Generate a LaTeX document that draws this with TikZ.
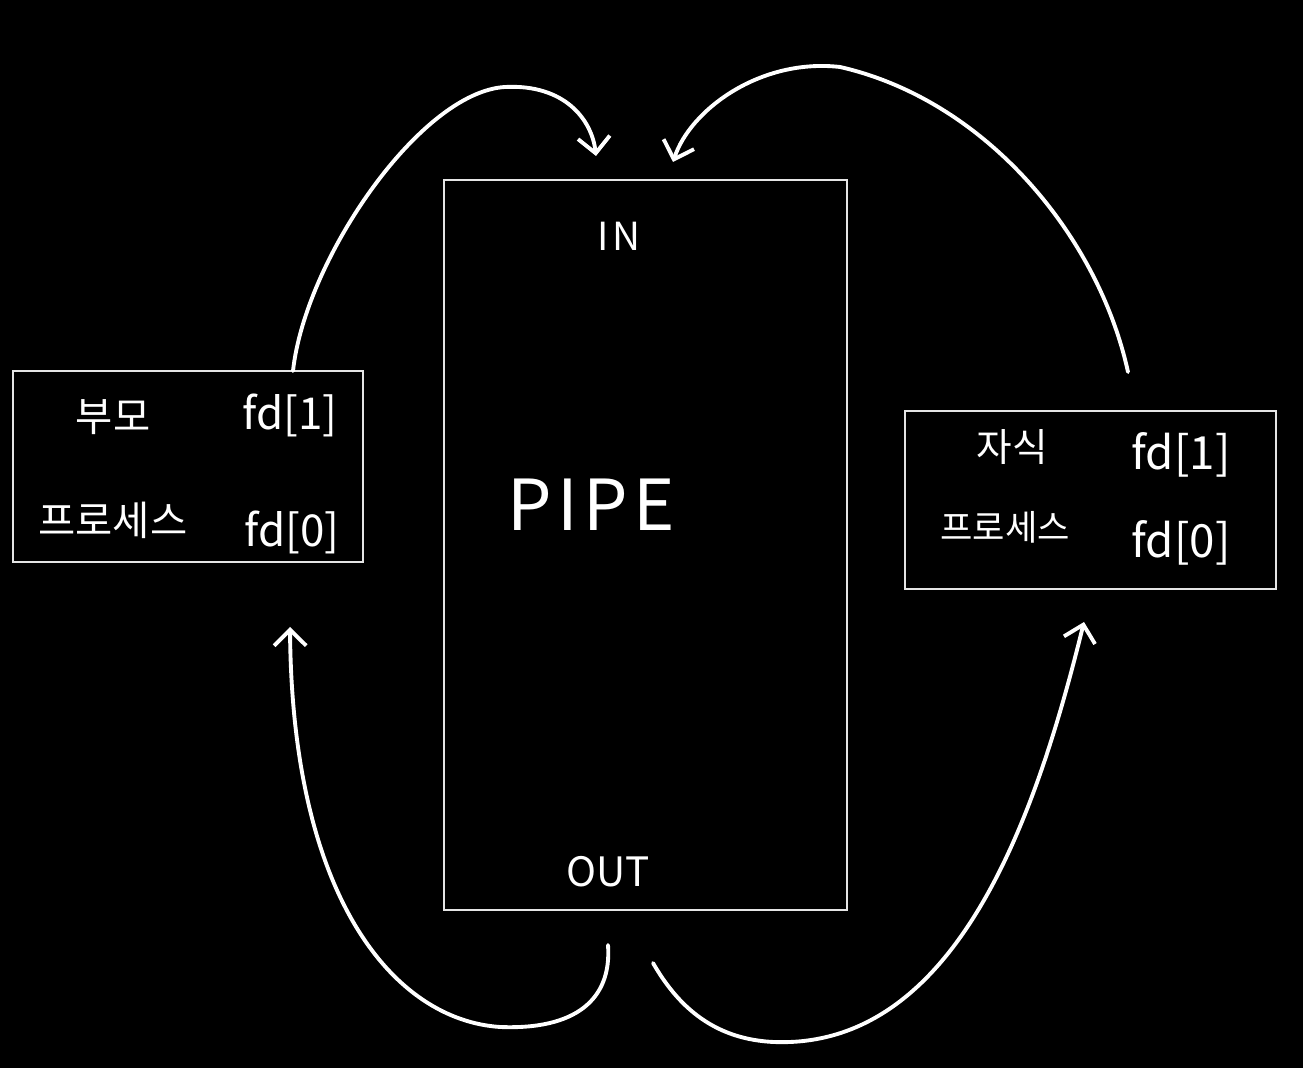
\documentclass[tikz,border=0pt]{standalone}
\usepackage{fontspec}
\setmainfont{Noto Sans CJK KR}
\usetikzlibrary{arrows.meta}
\begin{document}
\begin{tikzpicture}[x=0.01cm,y=-0.01cm,
  box/.style={draw=white!90!black,line width=0.6pt,inner sep=0pt},
  lbl/.style={text=white,inner sep=0pt,anchor=center},
  conn/.style={draw=white,line width=1.1pt,line cap=round,
    -{Straight Barb[length=0.16cm,width=0.32cm,line width=1.1pt]}}]
\fill[black] (0,0) rectangle (1303,1068);
\useasboundingbox (0,0) rectangle (1303,1068);
% boxes
\node[box,minimum width=3.5cm,minimum height=1.91cm] (parent) at (188,466.5) {};
\node[box,minimum width=4.03cm,minimum height=7.3cm] (pipe) at (645.5,545) {};
\node[box,minimum width=3.71cm,minimum height=1.78cm] (child) at (1090.5,500) {};
% texts
\node[lbl,font=\fontsize{11.5}{14}\selectfont] (t1) at (113,417) {부모};
\node[lbl,font=\fontsize{12.5}{15}\selectfont] (t2) at (290,415) {fd[1]};
\node[lbl,font=\fontsize{11.5}{14}\selectfont] (t3) at (113,520) {프로세스};
\node[lbl,font=\fontsize{12.5}{15}\selectfont] (t4) at (292,532) {fd[0]};
\node[lbl,font=\fontsize{11}{13}\selectfont] (t5) at (1012,447) {자식};
\node[lbl,font=\fontsize{13}{15}\selectfont] (t6) at (1181,455) {fd[1]};
\node[lbl,font=\fontsize{10}{12}\selectfont] (t7) at (1005,527) {프로세스};
\node[lbl,font=\fontsize{13}{15}\selectfont] (t8) at (1181,543) {fd[0]};
\node[lbl,font=\fontsize{11}{13}\selectfont\addfontfeatures{LetterSpace=10}] (tin) at (619,236) {IN};
\node[lbl,font=\fontsize{20}{24}\selectfont\addfontfeatures{LetterSpace=8}] (tpipe) at (591,505) {PIPE};
\node[lbl,font=\fontsize{11.5}{14}\selectfont] (tout) at (608,872) {OUT};
% connector endpoints
\coordinate (a1) at (293,371);
\coordinate (a2) at (596,156);
\coordinate (b1) at (1128,372);
\coordinate (b2) at (673,162);
\coordinate (c1) at (608,945);
\coordinate (c2) at (290,627);
\coordinate (d1) at (653,963);
\coordinate (d2) at (1084,622);
% connectors
\draw[conn] (a1) .. controls (305,260) and (420,92) .. (505,87)
  .. controls (565,84) and (592,120) .. (a2);
\draw[conn] (b1) .. controls (1098,235) and (985,100) .. (840,67)
  .. controls (760,58) and (690,110) .. (b2);
\draw[conn] (c1) .. controls (612,1000) and (575,1030) .. (500,1027)
  .. controls (395,1020) and (292,900) .. (c2);
\draw[conn] (d1) .. controls (680,1010) and (720,1045) .. (790,1042)
  .. controls (965,1035) and (1040,800) .. (d2);
\end{tikzpicture}
\end{document}
